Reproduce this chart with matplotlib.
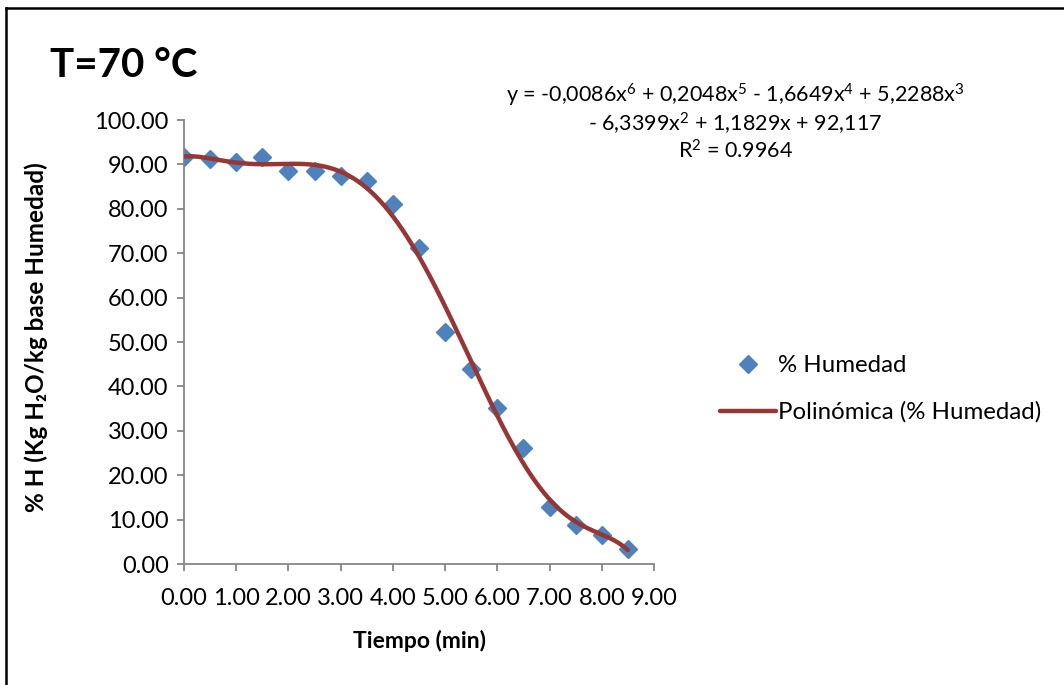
import matplotlib

matplotlib.use("Agg")
import matplotlib.pyplot as plt
import numpy as np
from matplotlib.lines import Line2D
from matplotlib.ticker import FormatStrFormatter, MultipleLocator

# data
tiempo = [0.0, 0.5, 1.0, 1.5, 2.0, 2.5, 3.0, 3.5, 4.0,
          4.5, 5.0, 5.5, 6.0, 6.5, 7.0, 7.5, 8.0, 8.5]
humedad = [91.7, 91.2, 90.6, 91.7, 88.5, 88.6, 87.5, 86.3, 81.1,
           71.2, 52.3, 43.9, 35.2, 26.2, 12.9, 8.9, 6.5, 3.4]
equation = ("y = -0,0086x$^{6}$ + 0,2048x$^{5}$ - 1,6649x$^{4}$ + 5,2288x$^{3}$\n"
            "- 6,3399x$^{2}$ + 1,1829x + 92,117\n"
            "R$^{2}$ = 0.9964")

FONT = ["Lato", "DejaVu Sans"]
plt.rcParams["font.family"] = FONT
plt.rcParams["mathtext.fontset"] = "custom"
plt.rcParams["mathtext.rm"] = "Lato"
plt.rcParams["mathtext.it"] = "Lato"
plt.rcParams["mathtext.default"] = "rm"

BLUE = "#4F81BD"
RED = "#953735"
GRAY = "#868686"

fig = plt.figure(figsize=(10.64, 6.85), dpi=100)
ax = fig.add_axes([0.1729, 0.1766, 0.4418, 0.6482])

# polynomial trendline (6th order), fitted the way the spreadsheet does
coef = np.polyfit(tiempo, humedad, 6)
xs = np.linspace(min(tiempo), max(tiempo), 300)
ax.plot(xs, np.polyval(coef, xs), color=RED, lw=3.2, zorder=3,
        solid_capstyle="round")
ax.plot(tiempo, humedad, ls="none", marker="D", ms=9.5, color=BLUE,
        mec=BLUE, zorder=2)

ax.set_xlim(0, 9)
ax.set_ylim(0, 100)
ax.xaxis.set_major_locator(MultipleLocator(1))
ax.yaxis.set_major_locator(MultipleLocator(10))
ax.xaxis.set_major_formatter(FormatStrFormatter("%.2f"))
ax.yaxis.set_major_formatter(FormatStrFormatter("%.2f"))
for s in ("top", "right"):
    ax.spines[s].set_visible(False)
for s in ("left", "bottom"):
    ax.spines[s].set_color(GRAY)
    ax.spines[s].set_linewidth(1.3)
ax.tick_params(length=5, width=1.3, color=GRAY, labelsize=17, pad=6)
ax.tick_params(axis="x", pad=12)

ax.set_xlabel("Tiempo (min)", fontsize=16.5, fontweight="bold", labelpad=15)
ax.set_ylabel("% H (Kg H\u2082O/kg base Humedad)", fontsize=17.5,
              fontweight="bold")
ax.yaxis.set_label_coords(-0.290, 0.51)

fig.text(0.047, 0.905, "T=70 \u00b0C", fontsize=29, fontweight="bold",
         ha="left", va="center")
fig.text(0.691, 0.822, equation, fontsize=15.5, ha="center", va="center",
         linespacing=1.12)

handles = [
    Line2D([], [], ls="none", marker="D", ms=9.5, color=BLUE),
    Line2D([], [], color=RED, lw=3.2, solid_capstyle="round"),
]
fig.legend(handles, ["% Humedad", "Polin\u00f3mica (% Humedad)"],
           loc="center left", bbox_to_anchor=(0.668, 0.432),
           frameon=False, fontsize=17.3, handlelength=2.3,
           handletextpad=0.1, labelspacing=1.05, borderaxespad=0)

# chart border (only left and top edges are in frame)
fig.add_artist(Line2D([0.006, 0.006], [0, 0.988], color="black", lw=1.8))
fig.add_artist(Line2D([0.006, 1.0], [0.988, 0.988], color="black", lw=1.8))

fig.savefig("out.png", dpi=100)
